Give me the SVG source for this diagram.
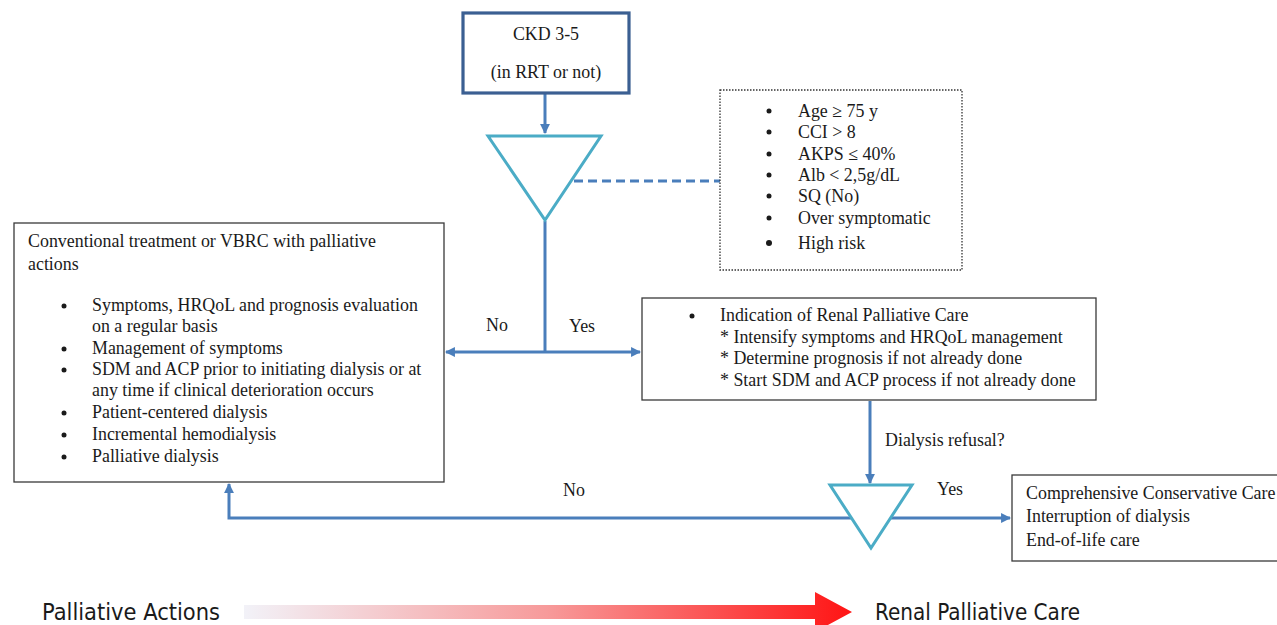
<svg xmlns="http://www.w3.org/2000/svg" width="1277" height="625" viewBox="0 0 1277 625">
<style>
  text { font-family: "Liberation Serif", "Times New Roman", serif; font-size: 17.9px; fill: #1a1a1a; }
  .box { fill: #ffffff; stroke: #3a3a3a; stroke-width: 1.3; }
  .tri { fill: #ffffff; stroke: #4BACC6; stroke-width: 3; stroke-linejoin: miter; }
  .con { fill: none; stroke: #4A7EBB; stroke-width: 3; }
  .bul { fill: #1a1a1a; }
  .sans { font-family: "DejaVu Sans Condensed", "Liberation Sans Narrow", "Liberation Sans", sans-serif; font-size: 23px; }
</style>
<defs>
  <marker id="ah" viewBox="0 0 10 10" refX="9" refY="5" markerWidth="3.3" markerHeight="3.3" orient="auto" markerUnits="strokeWidth">
    <path d="M0,0 L10,5 L0,10 z" fill="#4A7EBB"/>
  </marker>
  <linearGradient id="grad" x1="0" y1="0" x2="1" y2="0">
    <stop offset="0" stop-color="#F2F2F8"/>
    <stop offset="0.5" stop-color="#F79A9A"/>
    <stop offset="1" stop-color="#FF1414"/>
  </linearGradient>
</defs>

<g id="connectors">
  <line class="con" x1="545" y1="93" x2="545" y2="133" marker-end="url(#ah)"/>
  <line x1="574" y1="181" x2="720" y2="181" stroke="#4A7EBB" stroke-width="3" stroke-dasharray="9,5"/>
  <line class="con" x1="545" y1="221" x2="545" y2="352"/>
  <line class="con" x1="545" y1="352" x2="446" y2="352" marker-end="url(#ah)"/>
  <line class="con" x1="545" y1="352" x2="640" y2="352" marker-end="url(#ah)"/>
  <line class="con" x1="870" y1="401" x2="870" y2="483" marker-end="url(#ah)"/>
  <polyline class="con" points="853,518 229,518 229,484" marker-end="url(#ah)"/>
  <line class="con" x1="889" y1="518" x2="1010" y2="518" marker-end="url(#ah)"/>
</g>

<g id="label-no1"><text x="486" y="331">No</text></g>
<g id="label-yes1"><text x="569" y="332">Yes</text></g>
<g id="label-refusal"><text x="885" y="446">Dialysis refusal?</text></g>
<g id="label-no2"><text x="563" y="496">No</text></g>
<g id="label-yes2"><text x="937" y="495">Yes</text></g>

<g id="ckd">
  <rect x="463" y="13" width="166" height="80" fill="#ffffff" stroke="#3B5F92" stroke-width="3.2"/>
  <text x="546" y="40" text-anchor="middle">CKD 3-5</text>
  <text x="546" y="78" text-anchor="middle">(in RRT or not)</text>
</g>

<g id="decision1">
  <polygon class="tri" points="488,136 601,136 545,220"/>
</g>

<g id="criteria">
  <rect x="720" y="90" width="242" height="180" fill="#ffffff" stroke="#333" stroke-width="1.3" stroke-dasharray="1.5,1.5"/>
  <circle class="bul" cx="769" cy="111" r="2.5"/>
  <circle class="bul" cx="769" cy="132" r="2.5"/>
  <circle class="bul" cx="769" cy="154" r="2.5"/>
  <circle class="bul" cx="769" cy="175" r="2.5"/>
  <circle class="bul" cx="769" cy="196" r="2.5"/>
  <circle class="bul" cx="769" cy="218" r="2.5"/>
  <circle class="bul" cx="769" cy="243" r="3"/>
  <text x="798" y="117">Age ≥ 75 y</text>
  <text x="798" y="138">CCI &gt; 8</text>
  <text x="798" y="160">AKPS ≤ 40%</text>
  <text x="798" y="181">Alb &lt; 2,5g/dL</text>
  <text x="798" y="202">SQ (No)</text>
  <text x="798" y="224">Over symptomatic</text>
  <text x="798" y="249">High risk</text>
</g>

<g id="conventional">
  <rect class="box" x="14" y="223" width="430" height="259"/>
  <text x="28" y="247">Conventional treatment or VBRC with palliative</text>
  <text x="28" y="270">actions</text>
  <circle class="bul" cx="64" cy="306" r="2.5"/>
  <circle class="bul" cx="64" cy="349" r="2.5"/>
  <circle class="bul" cx="64" cy="370" r="2.5"/>
  <circle class="bul" cx="64" cy="413" r="2.5"/>
  <circle class="bul" cx="64" cy="435" r="2.5"/>
  <circle class="bul" cx="64" cy="457" r="2.5"/>
  <text x="92" y="311">Symptoms, HRQoL and prognosis evaluation</text>
  <text x="92" y="332">on a regular basis</text>
  <text x="92" y="354">Management of symptoms</text>
  <text x="92" y="375">SDM and ACP prior to initiating dialysis or at</text>
  <text x="92" y="396">any time if clinical deterioration occurs</text>
  <text x="92" y="418">Patient-centered dialysis</text>
  <text x="92" y="440">Incremental hemodialysis</text>
  <text x="92" y="462">Palliative dialysis</text>
</g>

<g id="renal-palliative">
  <rect class="box" x="642" y="298" width="454" height="102"/>
  <circle class="bul" cx="692" cy="316" r="2.5"/>
  <text x="720" y="321">Indication of Renal Palliative Care</text>
  <text x="720" y="343">* Intensify symptoms and HRQoL management</text>
  <text x="720" y="364">* Determine prognosis if not already done</text>
  <text x="720" y="386">* Start SDM and ACP process if not already done</text>
</g>

<g id="decision2">
  <polygon class="tri" points="830,485 912,485 871,548"/>
</g>

<g id="outcome">
  <rect class="box" x="1012" y="475" width="270" height="86"/>
  <text x="1026" y="499">Comprehensive Conservative Care</text>
  <text x="1026" y="522">Interruption of dialysis</text>
  <text x="1026" y="546">End-of-life care</text>
</g>

<g id="scale">
  <path d="M244,605 L815,605 L815,592 L852,612 L815,632 L815,619 L244,619 z" fill="url(#grad)"/>
  <text class="sans" x="42" y="620" textLength="178" lengthAdjust="spacingAndGlyphs">Palliative Actions</text>
  <text class="sans" x="875" y="620" textLength="205" lengthAdjust="spacingAndGlyphs">Renal Palliative Care</text>
</g>
</svg>
